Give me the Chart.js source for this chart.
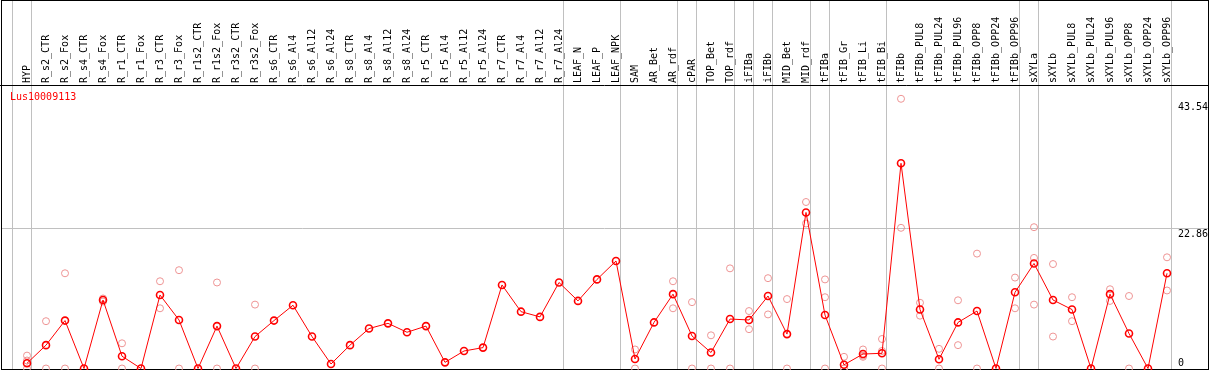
<!DOCTYPE html>
<html>
<head>
<meta charset="utf-8">
<title>Lus10009113</title>
<script src="https://cdn.jsdelivr.net/npm/chart.js@4.4.1/dist/chart.umd.min.js"></script>
<style>
body { margin: 0; background: #fff; }
canvas { display: block; }
</style>
</head>
<body>
<canvas id="canvas" width="1209" height="370"></canvas>
<script>
//Categorías (muestras), en el orden del eje X
var categorias = ['HYP', 'R_s2_CTR', 'R_s2_Fox', 'R_s4_CTR', 'R_s4_Fox', 'R_r1_CTR', 'R_r1_Fox', 'R_r3_CTR', 'R_r3_Fox',
	'R_r1s2_CTR', 'R_r1s2_Fox', 'R_r3s2_CTR', 'R_r3s2_Fox', 'R_s6_CTR', 'R_s6_Al4', 'R_s6_Al12', 'R_s6_Al24',
	'R_s8_CTR', 'R_s8_Al4', 'R_s8_Al12', 'R_s8_Al24', 'R_r5_CTR', 'R_r5_Al4', 'R_r5_Al12', 'R_r5_Al24',
	'R_r7_CTR', 'R_r7_Al4', 'R_r7_Al12', 'R_r7_Al24', 'LEAF_N', 'LEAF_P', 'LEAF_NPK', 'SAM', 'AR_Bet', 'AR_rdf',
	'cPAR', 'TOP_Bet', 'TOP_rdf', 'iFIBa', 'iFIBb', 'MID_Bet', 'MID_rdf', 'tFIBa', 'tFIB_Gr', 'tFIB_Li', 'tFIB_Bi',
	'tFIBb', 'tFIBb_PUL8', 'tFIBb_PUL24', 'tFIBb_PUL96', 'tFIBb_OPP8', 'tFIBb_OPP24', 'tFIBb_OPP96',
	'sXYLa', 'sXYLb', 'sXYLb_PUL8', 'sXYLb_PUL24', 'sXYLb_PUL96', 'sXYLb_OPP8', 'sXYLb_OPP24', 'sXYLb_OPP96'];

//Valor medio (línea roja)
var media = [0.85, 3.8, 7.8, 0, 11.15, 2.0, 0, 11.96, 7.9, 0, 6.9, 0, 5.2, 7.8, 10.3, 5.2, 0.73,
	3.8, 6.5, 7.35, 5.9, 6.9, 1.0, 2.85, 3.4, 13.6, 9.25, 8.4, 14.0, 11.0, 14.5, 17.5, 1.55, 7.5, 12.1,
	5.3, 2.6, 8.05, 7.9, 11.8, 5.6, 25.4, 8.7, 0.6, 2.36, 2.47, 33.4, 9.6, 1.5, 7.5, 9.35, 0, 12.4,
	17.1, 11.15, 9.6, 0, 12.1, 5.7, 0, 15.5];

//Réplicas (círculos rosa), null donde no hay
var replica1 = [2.1, 7.7, 15.5, null, 11.4, 4.1, null, 14.2, 16.0, null, 14.0, null, 10.4, null, null, null, null,
	null, null, null, null, null, null, null, null, null, null, null, null, null, null, null, 3.1, null, 14.2,
	10.8, 5.4, 16.3, 9.35, 14.7, 11.3, 27.1, 14.5, 1.9, 3.1, 4.8, 43.9, 10.7, 3.2, 11.1, 18.7, null, 14.8,
	23.0, 17.0, 11.6, null, 12.9, 11.8, null, 18.1];
var replica2 = [1.3, 0, 0, null, 10.9, 0, null, 9.8, 0, null, 0, null, 0, null, null, null, null,
	null, null, null, null, null, null, null, null, null, null, null, null, null, null, null, 0, null, 9.8,
	0, 0, 0, 6.4, 8.8, 0, 23.6, 11.6, 0, 1.9, 2.85, 22.9, 8.6, 0, 3.8, 0, null, 9.8,
	18.0, 5.2, 7.7, null, 11.0, 0, null, 12.7];
var replica3 = [0, null, null, null, null, null, null, null, null, null, null, null, null, null, null, null, null,
	null, null, null, null, null, null, null, null, null, null, null, null, null, null, null, null, null, null,
	null, null, null, null, null, null, null, 0, 0, 2.1, 0, null, null, null, null, null, null, null,
	10.4, null, null, null, null, null, null, null];

//Marcas del eje Y (a la derecha)
var ticksY = [0, 22.86, 43.54];
//Índices tras los que hay separador de grupo
var separadores = [-1, 0, 28, 31, 34, 35, 37, 38, 39, 41, 42, 45, 52, 53, 60];
var nombreGen = 'Lus10009113';

//Juntamos las réplicas como puntos sueltos
var puntosReplica = [];
[replica1, replica2, replica3].forEach(function(rep) {
	for (var i = 0; i < rep.length; i++) {
		if (rep[i] !== null) puntosReplica.push({ x: categorias[i], y: rep[i] });
	}
});

var fuente = "10px 'DejaVu Sans Mono', monospace";

var decorado = {
	id: 'decorado',
	beforeDatasetsDraw: function(chart) {
		var ctx = chart.ctx;
		var xs = chart.scales.x;
		var ys = chart.scales.y;
		ctx.save();
		ctx.lineWidth = 1;
		ctx.strokeStyle = '#c0c0c0';
		//separadores verticales de grupos
		separadores.forEach(function(s) {
			var x = Math.round(xs.getPixelForValue(s) + 4) + 0.5;
			ctx.beginPath();
			ctx.moveTo(x, 0);
			ctx.lineTo(x, 369);
			ctx.stroke();
		});
		//línea horizontal de las marcas intermedias
		ticksY.forEach(function(t) {
			if (t <= 0 || t >= ys.max) return;
			var y = Math.round(ys.getPixelForValue(t)) + 0.5;
			ctx.beginPath();
			ctx.moveTo(1, y);
			ctx.lineTo(1208, y);
			ctx.stroke();
		});
		//marco negro y línea de cabecera
		ctx.strokeStyle = '#000';
		ctx.strokeRect(1.5, 0.5, 1207, 369);
		ctx.beginPath();
		ctx.moveTo(0, 85.5);
		ctx.lineTo(1209, 85.5);
		ctx.stroke();
		ctx.restore();
	},
	afterDraw: function(chart) {
		var ctx = chart.ctx;
		var xs = chart.scales.x;
		var ys = chart.scales.y;
		ctx.save();
		ctx.font = fuente;
		ctx.fillStyle = '#000';
		//nombres de las muestras en vertical
		ctx.textAlign = 'left';
		ctx.textBaseline = 'alphabetic';
		categorias.forEach(function(c, i) {
			var x = xs.getPixelForValue(i);
			ctx.save();
			ctx.translate(x + 2.5, 83);
			ctx.rotate(-Math.PI / 2);
			ctx.fillText(c, 0, 0);
			ctx.restore();
		});
		//etiquetas del eje Y
		ticksY.forEach(function(t) {
			var y = ys.getPixelForValue(t);
			if (t === 0) ctx.fillText(String(t), 1178, y - 3);
			else ctx.fillText(t.toFixed(2), 1178, y + 8.5);
		});
		//nombre del gen
		ctx.fillStyle = '#ff0000';
		ctx.textBaseline = 'middle';
		ctx.fillText(nombreGen, 10, 97);
		ctx.restore();
	}
};

var ctx = document.getElementById('canvas').getContext('2d');
window.grafica = new Chart(ctx, {
	type: 'line',
	data: {
		labels: categorias,
		datasets: [{
			label: 'media',
			data: media,
			order: 0,
			borderColor: '#ff0000',
			borderWidth: 1,
			tension: 0,
			pointRadius: 3.5,
			pointBorderWidth: 1.6,
			pointBorderColor: '#ff0000',
			pointBackgroundColor: 'rgba(0,0,0,0)',
			clip: false
		}, {
			label: 'replicas',
			data: puntosReplica,
			order: 1,
			showLine: false,
			pointRadius: 3.5,
			pointBorderWidth: 1,
			pointBorderColor: '#ee9494',
			pointBackgroundColor: 'rgba(0,0,0,0)',
			clip: false
		}]
	},
	options: {
		responsive: false,
		animation: false,
		devicePixelRatio: 1,
		layout: { autoPadding: false, padding: { left: 17.5, right: 32.5, top: 101, bottom: 1.5 } },
		plugins: { legend: { display: false }, tooltip: { enabled: false } },
		scales: {
			x: { type: 'category', offset: true, display: false },
			y: { min: 0, max: 43.54, display: false }
		}
	},
	plugins: [decorado]
});
</script>
</body>
</html>
